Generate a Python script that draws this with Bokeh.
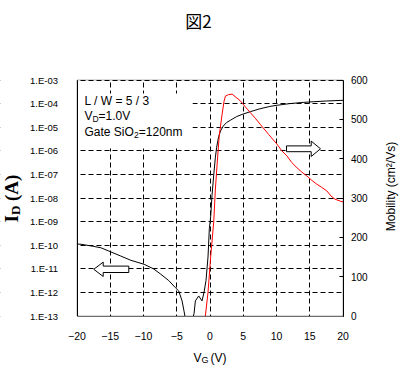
import math
from bokeh.plotting import figure
from bokeh.models import (Range1d, LinearAxis, LinearScale, FixedTicker, CustomJSTickFormatter,
                          Label, BoxAnnotation)
from bokeh.embed import file_html
from bokeh.resources import INLINE

# ---------------- data ----------------
VG_ID = [-20, -19.4, -17.5, -16.4, -15.2, -13.5, -11.9, -9.9, -8.5, -7.4, -6.2, -5.2,
         -4.7, -4.2, -3.9, -3.6, -3.2, -2.7, -2.4, -2.2, -1.7, -1.2, -0.9, -0.6, -0.3,
         -0.1, 0.1, 0.3, 0.57, 0.8, 1.0, 1.3, 1.6, 2.0, 2.5, 3.1, 4.0, 5.0, 6.1, 7.5,
         9.0, 10.1, 12.0, 14.0, 15.6, 17.5, 20.0]
LOG_ID = [-9.95, -9.96, -10.05, -10.11, -10.25, -10.45, -10.64, -10.81, -11.0, -11.23,
          -11.5, -11.80, -11.94, -12.36, -12.8, -13.3, -13.5, -13.2, -12.9, -12.36,
          -12.15, -12.36, -12.0, -11.5, -10.5, -9.3, -8.8, -7.9, -7.0, -6.3, -5.85,
          -5.4, -5.15, -4.95, -4.8, -4.7, -4.55, -4.44, -4.34, -4.22, -4.12, -4.07,
          -4.0, -3.95, -3.92, -3.89, -3.86]
ID = [10 ** v for v in LOG_ID]

VG_MU = [-0.7, -0.3, 0.1, 0.57, 0.8, 1.07, 1.4, 1.82, 2.1, 2.32, 2.8, 3.33, 3.9, 4.57,
         5.3, 6.07, 6.8, 7.57, 8.8, 10.07, 10.8, 11.57, 12.3, 13.07, 13.8, 14.57, 15.3,
         16.07, 16.8, 17.57, 18.2, 18.8, 19.6, 20.0]
MU = [0, 60, 150, 241, 320, 386, 460, 513, 545, 559, 563, 564, 556, 547, 532, 517, 503,
      487, 462, 437, 420, 407, 390, 377, 366, 356, 345, 335, 327, 318, 305, 297, 292, 290]

X_TICKS = [-20, -15, -10, -5, 0, 5, 10, 15, 20]
Y_TICKS_EXP = list(range(-13, -2))
Y_TICK_LABELS = ["1.E-13", "1.E-12", "1.E-11", "1.E-10", "1.E-09", "1.E-08",
                 "1.E-07", "1.E-06", "1.E-05", "1.E-04", "1.E-03"]
MU_TICKS = [0, 100, 200, 300, 400, 500, 600]

X_MIN, X_MAX = -20, 20
LOG_MIN, LOG_MAX = -13, -3
MU_MIN, MU_MAX = 0, 600

# canvas size and plot-area placement (pixels); the whole canvas is the frame
W, H = 400, 367
FL, FR, FT, FB = 76.5, 342.5, 79.5, 315.5


def px_x(xp):
    return X_MIN + (xp - FL) / (FR - FL) * (X_MAX - X_MIN)


def px_mu(yp):
    return MU_MIN + (FB - yp) / (FB - FT) * (MU_MAX - MU_MIN)


def px_log(yp):
    return LOG_MIN + (FB - yp) / (FB - FT) * (LOG_MAX - LOG_MIN)


p = figure(frame_width=W, frame_height=H, min_border=0,
           x_range=Range1d(px_x(0), px_x(W)),
           y_range=Range1d(10 ** px_log(H), 10 ** px_log(0)),
           y_axis_type="log", output_backend="svg", toolbar_location=None)
p.extra_y_ranges = {"mu": Range1d(px_mu(H), px_mu(0))}
p.extra_y_scales = {"mu": LinearScale()}
p.background_fill_color = "white"
p.border_fill_color = "white"
p.outline_line_color = None

TICK_FONT = "Liberation Sans"

# x axis (pinned to the bottom of the plot area)
xa = p.xaxis[0]
xa.fixed_location = 10.0 ** LOG_MIN
xa.bounds = (X_MIN, X_MAX)
xa.ticker = FixedTicker(ticks=X_TICKS)
xa.major_tick_in = 0
xa.major_tick_out = 0
xa.minor_tick_in = 0
xa.minor_tick_out = 0
xa.major_label_standoff = 16
xa.major_label_text_font = TICK_FONT
xa.major_label_text_font_size = "10.5px"
xa.major_label_text_color = "black"
xa.axis_line_color = "black"

# left log axis
ya = p.yaxis[0]
ya.fixed_location = X_MIN
ya.bounds = (10.0 ** LOG_MIN, 10.0 ** LOG_MAX)
ya.ticker = FixedTicker(ticks=[10.0 ** e for e in Y_TICKS_EXP])
ya.formatter = CustomJSTickFormatter(args=dict(labels=Y_TICK_LABELS, first=Y_TICKS_EXP[0]),
                                     code="return labels[Math.round(Math.log10(tick)) - first];")
ya.major_tick_in = 0
ya.major_tick_out = 0
ya.minor_tick_in = 0
ya.minor_tick_out = 0
ya.major_label_standoff = 19
ya.major_label_text_font = TICK_FONT
ya.major_label_text_font_size = "9.5px"
ya.major_label_text_color = "black"
ya.axis_line_color = "black"

# right axis (mobility)
ra = LinearAxis(y_range_name="mu", ticker=FixedTicker(ticks=MU_TICKS),
                fixed_location=X_MAX, bounds=(MU_MIN, MU_MAX))
ra.major_tick_in = 4
ra.major_tick_out = 0
ra.minor_tick_in = 0
ra.minor_tick_out = 0
ra.major_label_standoff = 8
ra.major_label_text_font = TICK_FONT
ra.major_label_text_font_size = "10px"
ra.major_label_text_color = "black"
ra.axis_line_color = "black"
p.add_layout(ra, "right")

# grids
for g in (p.xgrid[0], p.ygrid[0]):
    g.grid_line_color = "black"
    g.grid_line_dash = "5 3"
    g.grid_line_width = 1
    g.grid_line_alpha = 1.0

# white masks that keep the grid inside the plot area
for kw in (dict(right=X_MIN), dict(left=X_MAX),
           dict(bottom=MU_MAX, y_range_name="mu"), dict(top=MU_MIN, y_range_name="mu")):
    p.add_layout(BoxAnnotation(fill_color="white", fill_alpha=1.0, line_color=None,
                               level="underlay", **kw))

# white box behind the condition text
p.add_layout(BoxAnnotation(left=X_MIN, right=px_x(192), bottom=px_mu(148), top=px_mu(93),
                           y_range_name="mu", fill_color="white", fill_alpha=1.0,
                           line_color=None, level="underlay"))

# curves
p.line(VG_ID, ID, line_color="black", line_width=1)
p.line(VG_MU, MU, line_color="#ff0000", line_width=1, y_range_name="mu")

# clip what runs below the plot area
p.add_layout(BoxAnnotation(left=X_MIN, right=X_MAX, top=px_mu(FB + 0.6),
                           bottom=px_mu(FB + 14), y_range_name="mu", fill_color="white",
                           fill_alpha=1.0, line_color=None, level="annotation"))

# plot-area border
p.add_layout(BoxAnnotation(left=X_MIN, right=X_MAX, bottom=MU_MIN, top=MU_MAX,
                           y_range_name="mu", fill_color=None, line_color="black",
                           line_width=1, level="annotation"))


# outlined block arrows
def arrow(tip_px, tail_px, cy_px, head_len=9.4, head_half=7.2, shaft_half=3.2):
    d = 1 if tail_px > tip_px else -1
    base = tip_px + d * head_len
    xs = [tip_px, base, base, tail_px, tail_px, base, base]
    ys = [cy_px, cy_px - head_half, cy_px - shaft_half, cy_px - shaft_half,
          cy_px + shaft_half, cy_px + shaft_half, cy_px + head_half]
    p.patch([px_x(v) for v in xs], [px_mu(v) for v in ys], fill_color="white",
            line_color="black", line_width=1, y_range_name="mu")


arrow(93.3, 128.3, 268.8)
arrow(320, 286, 148.3, head_len=9.3, head_half=7.7, shaft_half=2.9)


def lab(xp, yp, text, size, font="Liberation Sans", align="left", baseline="middle",
        angle=0.0, style="normal"):
    p.add_layout(Label(x=px_x(xp), y=px_mu(yp), y_range_name="mu", text=text,
                       text_font=font, text_font_size=f"{size}px", text_align=align,
                       text_baseline=baseline, angle=angle, text_color="black",
                       text_font_style=style))


# condition text
lab(84, 100, "L / W = 5 / 3", 12)
lab(84, 115, "V", 12)
lab(92, 118, "D", 8.5)
lab(98, 115, "=1.0V", 12)
lab(84, 131, "Gate SiO", 12)
lab(133.4, 134, "2", 8.5)
lab(138.3, 131, "=120nm", 12)

# title
lab(198, 20, "図2", 17, font="Noto Sans CJK JP", align="center")

# bottom axis title
lab(193, 357, "V", 12, baseline="alphabetic")
lab(201, 359.5, "G", 9, baseline="alphabetic")
lab(210, 357, "(V)", 12, baseline="alphabetic")

# left axis title (rotated)
R = math.pi / 2
lab(11, 222, "I", 19, font="Liberation Serif", angle=R, style="bold")
lab(15, 214.6, "D", 13, font="Liberation Serif", angle=R, style="bold")
lab(11, 200.5, "(A)", 19, font="Liberation Serif", angle=R, style="bold")

# right axis title (rotated)
lab(390, 186, "Mobility (cm²/Vs)", 12, align="center", angle=R)

open("out.html", "w").write(file_html(p, INLINE))
